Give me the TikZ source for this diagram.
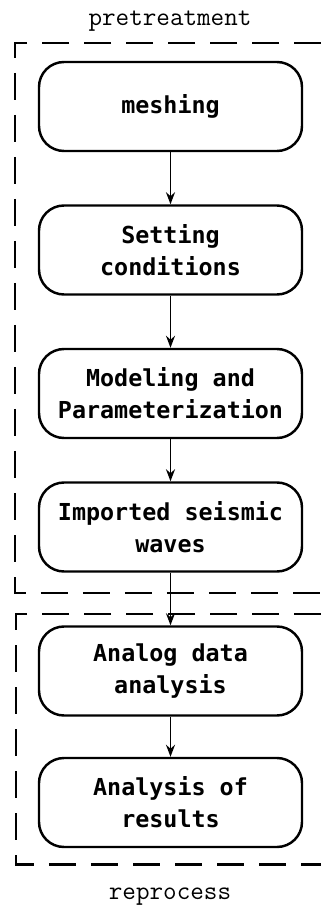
\documentclass[tikz,border=0pt]{standalone}
\usepackage{fontspec}
\newfontfamily\stagefont{DejaVu Sans Mono}
\usepackage{tikz}
\usetikzlibrary{arrows.meta}
\tikzset{%
  every stage/.style={
    draw,
    rounded corners=0.5cm,
    line width=1.4pt,
    minimum width=5.26cm,
    minimum height=1.78cm,
    inner sep=0pt,
    align=center,
    font=\stagefont\bfseries\fontsize{13.3}{18.2}\selectfont
  },
  group frame/.style={
    line width=1.7pt,
    dash pattern=on 0.54cm off 0.3cm
  },
  group label/.style={
    anchor=base,
    font=\ttfamily\fontsize{15}{18}\selectfont
  },
}

\begin{document}
\begin{tikzpicture}[> = {Stealth[length=2.4mm,width=1.8mm]}]
\useasboundingbox (0,0) rectangle (6.42,-18.14);
    % the two dashed frames, open to the right
    \draw[group frame] (6.42,-0.86) -- (0.30,-0.86) -- (0.30,-11.86) -- (6.42,-11.86);
    \draw[group frame] (6.42,-12.28) -- (0.32,-12.28) -- (0.32,-17.28) -- (6.42,-17.28);
    \node[group label] (pre) at (3.40,-0.52) {pretreatment};
    \node[group label] (post) at (3.40,-17.98) {reprocess};

    \node[every stage] (mesh)   at (3.41,-2.13)  {meshing};
    \node[every stage] (cond)   at (3.41,-5.00)  {Setting\\conditions};
    \node[every stage] (model)  at (3.41,-7.87)  {Modeling and\\Parameterization};
    \node[every stage] (wave)   at (3.41,-10.54) {Imported seismic\\waves};
    \node[every stage] (analog) at (3.41,-13.42) {Analog data\\analysis};
    \node[every stage] (result) at (3.41,-16.05) {Analysis of\\results};

    \draw[->, line width=0.9pt] (mesh) -- (cond);
    \draw[->, line width=0.9pt] (cond) -- (model);
    \draw[->, line width=0.9pt] (model) -- (wave);
    \draw[->, line width=0.9pt] (wave) -- (analog);
    \draw[->, line width=0.9pt] (analog) -- (result);
\end{tikzpicture}
\end{document}
